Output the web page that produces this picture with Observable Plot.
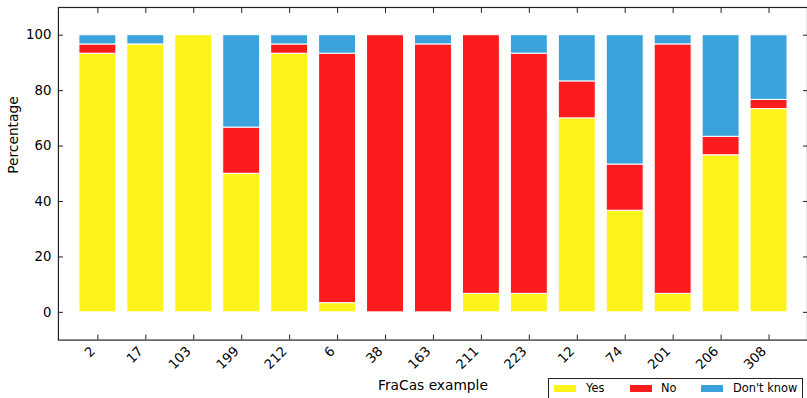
<!DOCTYPE html>
<html><head><meta charset="utf-8">
<script src="https://cdn.jsdelivr.net/npm/d3@7"></script>
<script src="https://cdn.jsdelivr.net/npm/@observablehq/plot@0.6"></script>
<style>
html,body{margin:0;padding:0;background:#fff;overflow:hidden;}
#wrap{position:relative;width:807px;height:398px;overflow:hidden;}
#legend{position:absolute;left:548px;top:378px;width:255px;height:30px;border:1px solid #222;box-sizing:border-box;background:#fff;font-family:"DejaVu Sans";font-size:11.4px;color:#000;}
#legend .p{position:absolute;top:6px;width:22px;height:7px;}
#legend .t{position:absolute;top:2px;line-height:14px;white-space:nowrap;}
</style></head><body>
<div id="wrap"></div>
<script>
const categories = ["2","17","103","199","212","6","38","163","211","223","12","74","201","206","308"];
const yes      = [93.33, 96.67, 100, 50,    93.33, 3.33,  0,   0,     6.67,  6.67,  70,    36.67, 6.67,  56.67, 73.33];
const no       = [3.33,  0,     0,   16.67, 3.33,  90,    100, 96.67, 93.33, 86.67, 13.33, 16.67, 90,    6.67,  3.33];
const dontKnow = [3.33,  3.33,  0,   33.33, 3.33,  6.67,  0,   3.33,  0,     6.67,  16.67, 46.67, 3.33,  36.67, 23.33];
const answers = ["Yes", "No", "Don't know"];
const colors = ["#fdf31b", "#fd1c1d", "#3aa3db"];
const yTicks = [0, 20, 40, 60, 80, 100];

const rows = [];
categories.forEach((c, i) => {
  [yes, no, dontKnow].forEach((arr, j) => rows.push({example: c, answer: answers[j], value: arr[i]}));
});

const plot = Plot.plot({
  width: 808, height: 398,
  marginLeft: 58, marginRight: 0, marginTop: 7, marginBottom: 58,
  style: {fontFamily: "DejaVu Sans", fontSize: "13px", color: "#000", background: "#fff", overflow: "visible"},
  x: {domain: categories, paddingInner: 0.23, paddingOuter: 0.405, label: null},
  y: {domain: [-10, 110], label: null},
  color: {domain: answers, range: colors},
  marks: [
    Plot.barY(rows, {x: "example", y: "value", fill: "answer", stroke: "white", strokeWidth: 1}),
    Plot.frame({stroke: "#222", strokeWidth: 1.2}),
    Plot.axisY({anchor: "left", ticks: yTicks, tickSize: -5, tickPadding: 12, stroke: "#222", fontSize: 13.3, label: null}),
    Plot.axisY({anchor: "right", ticks: yTicks, tickSize: -5, tickFormat: () => "", stroke: "#222", label: null}),
    Plot.axisX({anchor: "bottom", tickSize: -5, tickFormat: () => "", stroke: "#222", label: null}),
    Plot.axisX({anchor: "bottom", tickSize: 0, tickRotate: -45, tickPadding: 9, dx: -5, fontSize: 13.3, label: null}),
    Plot.axisX({anchor: "top", tickSize: -5, tickFormat: () => "", stroke: "#222", label: null}),
    Plot.text(["FraCas example"], {frameAnchor: "bottom", dy: 50, fontSize: 13.8}),
    Plot.text(["Percentage"], {frameAnchor: "left", dx: -45, rotate: -90, fontSize: 13.8})
  ]
});
document.getElementById("wrap").appendChild(plot);

const legend = document.createElement("div");
legend.id = "legend";
const lx = [[5, 37], [81, 112], [152, 184]];
answers.forEach((a, i) => {
  const p = document.createElement("div");
  p.className = "p"; p.style.left = lx[i][0] + "px"; p.style.background = colors[i];
  const t = document.createElement("div");
  t.className = "t"; t.style.left = lx[i][1] + "px"; t.textContent = a;
  legend.appendChild(p); legend.appendChild(t);
});
document.getElementById("wrap").appendChild(legend);
</script>
</body></html>
